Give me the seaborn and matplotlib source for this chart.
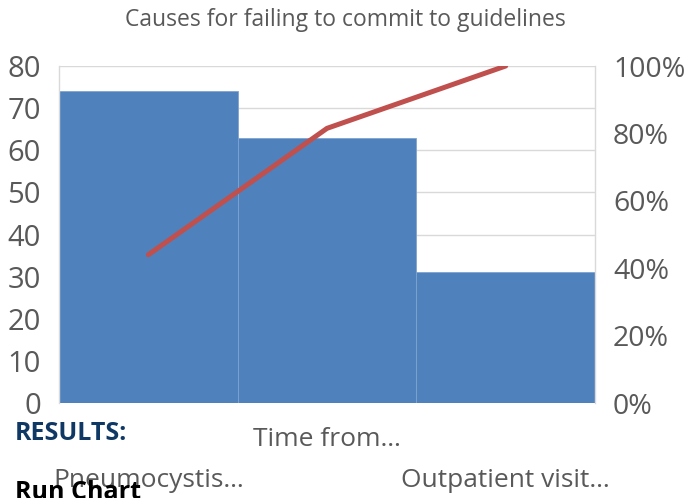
import matplotlib
matplotlib.use("Agg")
import matplotlib.pyplot as plt
import seaborn as sns
import pandas as pd
import numpy as np

categories = ["Pneumocystis…", "Time from…", "Outpatient visit…"]
counts = [74, 63, 31]
cumulative_pct = [44.0, 81.5, 100.0]
left_ticks = [0, 10, 20, 30, 40, 50, 60, 70, 80]
right_ticks = [0, 20, 40, 60, 80, 100]
title = "Causes for failing to commit to guidelines"

sns.set_theme(style="white")
plt.rcParams['font.family'] = ['Open Sans', 'DejaVu Sans']

fig = plt.figure(figsize=(6.87, 4.98), dpi=100)
ax = fig.add_axes([59/687, 1-403/498, (595-59)/687, (403-66)/498])

df = pd.DataFrame({"cause": categories, "count": counts, "cum": cumulative_pct})
sns.barplot(data=df, x="cause", y="count", color="#4f81bd", saturation=1,
            width=1.0, ax=ax, edgecolor="#7fa3d0", linewidth=0.6, zorder=2)
ax.set_xlim(-0.5, len(categories) - 0.5)
ax.set_ylim(0, 80)
ax.set_yticks(left_ticks)
ax.grid(axis="y", color="#d9d9d9", linewidth=1, zorder=0)
ax.set_axisbelow(True)
for s in ["top", "bottom"]:
    ax.spines[s].set_visible(False)
for s in ["left", "right"]:
    ax.spines[s].set_color("#d9d9d9")
    ax.spines[s].set_linewidth(1)
ax.set_xlabel("")
ax.set_ylabel("")
ax.tick_params(axis="y", length=0, pad=13, labelsize=21, labelcolor="#595959")
ax.tick_params(axis="x", length=0, labelsize=19, labelcolor="#595959")
for i, t in enumerate(ax.xaxis.get_major_ticks()):
    t.set_pad(17 if i % 2 == 1 else 47)

ax2 = ax.twinx()
sns.lineplot(x=np.arange(len(categories)), y=df["cum"], ax=ax2, color="#c0504d",
             linewidth=3.6, solid_capstyle="round")
ax2.set_ylim(0, 100)
ax2.set_yticks(right_ticks)
ax2.set_yticklabels([f"{v}%" for v in right_ticks])
ax2.set_ylabel("")
ax2.tick_params(axis="y", length=0, pad=13, labelsize=20.5, labelcolor="#595959")
for s in ax2.spines.values():
    s.set_visible(False)
ax2.set_xlim(-0.5, len(categories) - 0.5)

fig.text(345.5/687, 1-20/498, title, ha="center", va="center", fontsize=16.5, color="#595959")
fig.text(15/687, 1-433/498, "RESULTS:", ha="left", va="center", fontsize=18,
         fontweight="bold", color="#0f3864")
fig.text(15/687, 1-480/498, "Run Chart", ha="left", va="top", fontsize=18,
         fontweight="bold", color="#000000")

fig.savefig("out.png", dpi=100)
